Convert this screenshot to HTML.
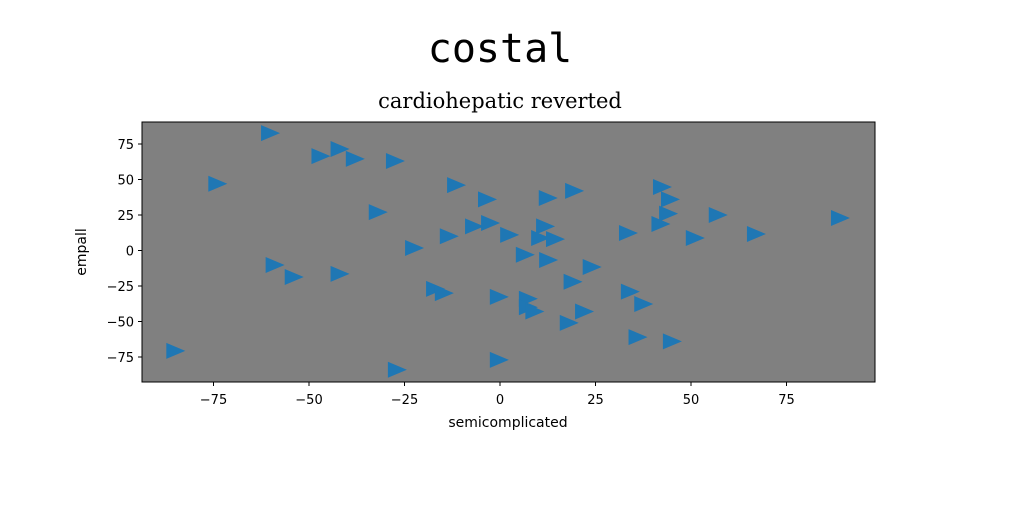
<!DOCTYPE html>
<html><head><meta charset="utf-8"><style>
html,body{margin:0;padding:0;background:#fff;width:1024px;height:512px;overflow:hidden}
</style></head><body>
<svg id="chart" width="1024" height="512" xmlns="http://www.w3.org/2000/svg">
<text x="500" y="62" text-anchor="middle" font-family="DejaVu Sans Mono, Liberation Mono, monospace" font-size="40">costal</text>
<text x="500" y="108" text-anchor="middle" font-family="DejaVu Serif, Liberation Serif, serif" font-size="21">cardiohepatic reverted</text>
<rect x="142" y="122" width="733" height="260" fill="#808080"/>
<g id="marks"></g>
<rect x="142" y="122" width="733" height="260" fill="none" stroke="#000" stroke-width="1"/>
<g id="axes" font-family="DejaVu Sans, Liberation Sans, sans-serif" font-size="13"></g>
<text x="508" y="427" text-anchor="middle" font-family="DejaVu Sans, Liberation Sans, sans-serif" font-size="14">semicomplicated</text>
<text transform="translate(86,252) rotate(-90)" text-anchor="middle" font-family="DejaVu Sans, Liberation Sans, sans-serif" font-size="14">empall</text>
</svg>
<script>
const xValues=[-60.2,-47,-42,-38,-27.5,-74,-11.5,-3.4,12.5,19.4,42.4,44.5,44,42,57,-32,-6.8,-2.6,11.8,-13.4,2.4,10.5,14.4,33.5,51,67,89,-22.5,6.5,12.6,24,-59,-54,-42,-17,-14.7,-0.3,19,7.3,7.3,9,22,18,34,37.5,36,45,-85,-0.3,-27];
const yValues=[82.7,66.5,71.5,64.5,63,47,46,36,37,42,44.7,36,26,18.7,25,27,17,19.4,17,10,11,8.8,8,12.3,8.8,11.6,22.9,1.8,-3,-6.7,-11.6,-10.2,-18.7,-16.5,-27,-30,-32.7,-22,-34,-40,-43,-43,-51,-29,-37.7,-61,-64,-70.7,-77,-84];
const xTicks=[-75,-50,-25,0,25,50,75];
const yTicks=[-75,-50,-25,0,25,50,75];
const xs=v=>500+v*3.82;
const ys=v=>250.5-v*1.42;
const NS="http://www.w3.org/2000/svg";
const marks=document.getElementById('marks');
for(let i=0;i<xValues.length;i++){
  const cx=xs(xValues[i]),cy=ys(yValues[i]);
  const p=document.createElementNS(NS,'polygon');
  p.setAttribute('points',`${cx-9},${cy-8} ${cx+10},${cy} ${cx-9},${cy+8}`);
  p.setAttribute('fill','#1f77b4');
  
  
  marks.appendChild(p);
}
const axes=document.getElementById('axes');
xTicks.forEach(t=>{
  const x=xs(t);
  const l=document.createElementNS(NS,'line');
  l.setAttribute('x1',x);l.setAttribute('x2',x);l.setAttribute('y1',382);l.setAttribute('y2',386);l.setAttribute('stroke','#000');
  
  
  axes.appendChild(l);
  const tx=document.createElementNS(NS,'text');
  tx.setAttribute('x',x);tx.setAttribute('y',404);tx.setAttribute('text-anchor','middle');
  tx.textContent=t<0?'\u2212'+Math.abs(t):t;
  
  
  axes.appendChild(tx);
});
yTicks.forEach(t=>{
  const y=ys(t);
  const l=document.createElementNS(NS,'line');
  l.setAttribute('x1',138);l.setAttribute('x2',142);l.setAttribute('y1',y);l.setAttribute('y2',y);l.setAttribute('stroke','#000');
  
  
  axes.appendChild(l);
  const tx=document.createElementNS(NS,'text');
  tx.setAttribute('x',134);tx.setAttribute('y',y+5);tx.setAttribute('text-anchor','end');
  tx.textContent=t<0?'\u2212'+Math.abs(t):t;
  
  
  axes.appendChild(tx);
});
</script>
</body></html>
